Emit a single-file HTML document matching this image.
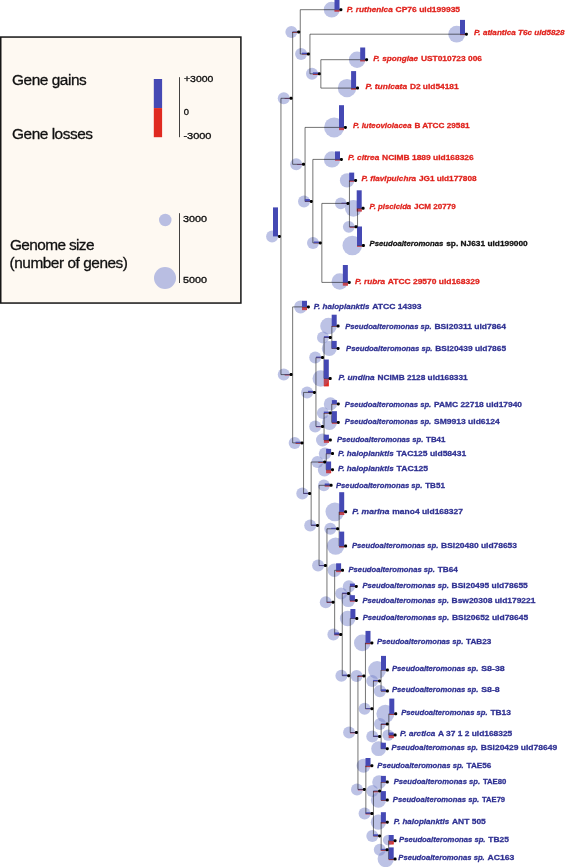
<!DOCTYPE html>
<html><head><meta charset="utf-8"><title>Gene gains and losses</title>
<style>html,body{margin:0;padding:0;background:#fff}svg{display:block;will-change:transform}</style>
</head><body>
<svg width="568" height="867" viewBox="0 0 568 867">
<rect x="0.75" y="37.05" width="240.15" height="266" fill="#fef9f2" stroke="#161616" stroke-width="1.5"/>
<g font-family="'Liberation Sans', sans-serif" fill="#111">
<g font-size="15.4" stroke="#111" stroke-width="0.3">
<text x="12" y="85" textLength="74.8" lengthAdjust="spacing">Gene gains</text>
<text x="12" y="139.2" textLength="81" lengthAdjust="spacing">Gene losses</text>
<text x="10" y="250" textLength="84.5" lengthAdjust="spacing">Genome size</text>
<text x="9.5" y="267.5" textLength="118.5" lengthAdjust="spacing">(number of genes)</text>
</g>
<g font-size="9.8" stroke="#111" stroke-width="0.35">
<text x="184" y="82.1" textLength="29.3" lengthAdjust="spacingAndGlyphs">+3000</text>
<text x="183.7" y="115.4" textLength="5.2" lengthAdjust="spacingAndGlyphs">0</text>
<text x="183.4" y="138.8" textLength="28.1" lengthAdjust="spacingAndGlyphs">-3000</text>
<text x="183" y="222.4" textLength="24" lengthAdjust="spacingAndGlyphs">3000</text>
<text x="183" y="282.9" textLength="24" lengthAdjust="spacingAndGlyphs">5000</text>
</g>
</g>
<rect x="153.8" y="79" width="8.3" height="29.1" fill="#4549b4"/>
<rect x="153.8" y="108.1" width="8.3" height="29.1" fill="#e02a20"/>
<path d="M179.5 77.2V137.2M179.5 213.2V283" stroke="#111" stroke-width="0.8" fill="none"/>
<circle cx="165.25" cy="220" r="6.25" fill="#b9bee2"/>
<circle cx="165" cy="278" r="11" fill="#b9bee2"/>
<g>
<rect x="334.50" y="9.70" width="5.0" height="2.00" fill="#e02a20"/>
<rect x="460.00" y="34.20" width="5.0" height="0.90" fill="#e02a20"/>
<rect x="360.20" y="59.70" width="5.0" height="1.70" fill="#e02a20"/>
<rect x="351.10" y="88.10" width="5.0" height="1.60" fill="#e02a20"/>
<rect x="339.00" y="127.40" width="5.0" height="2.70" fill="#e02a20"/>
<rect x="335.00" y="159.40" width="5.0" height="1.30" fill="#e02a20"/>
<rect x="349.20" y="180.40" width="5.0" height="1.40" fill="#e02a20"/>
<rect x="356.70" y="208.30" width="5.0" height="3.20" fill="#e02a20"/>
<rect x="357.00" y="245.50" width="5.0" height="1.30" fill="#e02a20"/>
<rect x="342.85" y="282.40" width="5.0" height="3.20" fill="#e02a20"/>
<rect x="302.00" y="306.90" width="5.0" height="3.20" fill="#e02a20"/>
<rect x="331.70" y="326.10" width="5.0" height="0.60" fill="#e02a20"/>
<rect x="331.70" y="348.40" width="5.0" height="0.40" fill="#e02a20"/>
<rect x="323.80" y="378.50" width="5.0" height="7.80" fill="#e02a20"/>
<rect x="331.90" y="403.90" width="5.0" height="0.40" fill="#e02a20"/>
<rect x="331.90" y="422.40" width="5.0" height="1.40" fill="#e02a20"/>
<rect x="323.90" y="440.00" width="5.0" height="2.80" fill="#e02a20"/>
<rect x="326.10" y="453.60" width="5.0" height="0.50" fill="#e02a20"/>
<rect x="326.10" y="469.70" width="5.0" height="3.50" fill="#e02a20"/>
<rect x="324.70" y="485.30" width="5.0" height="1.30" fill="#e02a20"/>
<rect x="339.20" y="511.80" width="5.0" height="3.20" fill="#e02a20"/>
<rect x="339.20" y="546.10" width="5.0" height="1.40" fill="#e02a20"/>
<rect x="336.10" y="570.30" width="5.0" height="1.80" fill="#e02a20"/>
<rect x="349.90" y="586.40" width="5.0" height="0.60" fill="#e02a20"/>
<rect x="349.90" y="600.40" width="5.0" height="1.30" fill="#e02a20"/>
<rect x="350.40" y="618.50" width="5.0" height="0.30" fill="#e02a20"/>
<rect x="365.50" y="642.90" width="5.0" height="1.30" fill="#e02a20"/>
<rect x="381.00" y="670.10" width="5.0" height="0.30" fill="#e02a20"/>
<rect x="381.00" y="691.10" width="5.0" height="0.30" fill="#e02a20"/>
<rect x="389.30" y="713.80" width="5.0" height="1.20" fill="#e02a20"/>
<rect x="388.70" y="735.10" width="5.0" height="3.00" fill="#e02a20"/>
<rect x="380.90" y="748.70" width="5.0" height="0.30" fill="#e02a20"/>
<rect x="365.50" y="765.70" width="5.0" height="1.40" fill="#e02a20"/>
<rect x="380.90" y="782.10" width="5.0" height="0.50" fill="#e02a20"/>
<rect x="380.90" y="800.10" width="5.0" height="0.70" fill="#e02a20"/>
<rect x="380.90" y="822.20" width="5.0" height="1.30" fill="#e02a20"/>
<rect x="388.70" y="840.70" width="5.0" height="3.70" fill="#e02a20"/>
<rect x="388.70" y="859.10" width="5.0" height="1.00" fill="#e02a20"/>
<rect x="284.70" y="98.30" width="5.0" height="0.70" fill="#e02a20"/>
<rect x="292.30" y="32.00" width="5.0" height="0.80" fill="#e02a20"/>
<rect x="302.00" y="54.00" width="5.0" height="0.40" fill="#e02a20"/>
<rect x="312.90" y="73.80" width="5.0" height="1.20" fill="#e02a20"/>
<rect x="297.10" y="164.30" width="5.0" height="0.70" fill="#e02a20"/>
<rect x="304.90" y="201.40" width="5.0" height="0.50" fill="#e02a20"/>
<rect x="313.90" y="242.90" width="5.0" height="0.30" fill="#e02a20"/>
<rect x="341.50" y="203.40" width="5.0" height="0.50" fill="#e02a20"/>
<rect x="349.60" y="226.80" width="5.0" height="0.80" fill="#e02a20"/>
<rect x="284.70" y="374.60" width="5.0" height="0.80" fill="#e02a20"/>
<rect x="295.60" y="442.90" width="5.0" height="0.90" fill="#e02a20"/>
<rect x="308.00" y="392.40" width="5.0" height="0.50" fill="#e02a20"/>
<rect x="316.10" y="357.60" width="5.0" height="0.50" fill="#e02a20"/>
<rect x="323.90" y="337.50" width="5.0" height="0.40" fill="#e02a20"/>
<rect x="316.10" y="426.50" width="5.0" height="0.70" fill="#e02a20"/>
<rect x="323.80" y="413.00" width="5.0" height="0.40" fill="#e02a20"/>
<rect x="303.20" y="493.50" width="5.0" height="0.40" fill="#e02a20"/>
<rect x="318.30" y="462.00" width="5.0" height="0.80" fill="#e02a20"/>
<rect x="311.10" y="525.40" width="5.0" height="0.30" fill="#e02a20"/>
<rect x="319.00" y="565.60" width="5.0" height="0.40" fill="#e02a20"/>
<rect x="331.20" y="528.80" width="5.0" height="0.20" fill="#e02a20"/>
<rect x="326.70" y="602.20" width="5.0" height="0.80" fill="#e02a20"/>
<rect x="334.30" y="634.50" width="5.0" height="0.80" fill="#e02a20"/>
<rect x="342.10" y="593.50" width="5.0" height="0.60" fill="#e02a20"/>
<rect x="342.30" y="675.70" width="5.0" height="0.30" fill="#e02a20"/>
<rect x="350.00" y="732.50" width="5.0" height="0.80" fill="#e02a20"/>
<rect x="357.50" y="675.90" width="5.0" height="0.90" fill="#e02a20"/>
<rect x="365.50" y="708.70" width="5.0" height="0.40" fill="#e02a20"/>
<rect x="373.10" y="680.90" width="5.0" height="0.30" fill="#e02a20"/>
<rect x="373.20" y="736.50" width="5.0" height="0.40" fill="#e02a20"/>
<rect x="380.90" y="724.10" width="5.0" height="0.80" fill="#e02a20"/>
<rect x="357.90" y="789.40" width="5.0" height="0.90" fill="#e02a20"/>
<rect x="365.50" y="813.50" width="5.0" height="0.90" fill="#e02a20"/>
<rect x="373.20" y="791.10" width="5.0" height="1.20" fill="#e02a20"/>
<rect x="373.20" y="835.90" width="5.0" height="0.40" fill="#e02a20"/>
<rect x="380.70" y="849.80" width="5.0" height="1.00" fill="#e02a20"/>
</g>
<g fill="#7a86cc" fill-opacity="0.5">
<circle cx="331.70" cy="9.70" r="7.9"/>
<circle cx="456.70" cy="34.20" r="8.4"/>
<circle cx="357.10" cy="59.70" r="8.2"/>
<circle cx="347.00" cy="88.10" r="9.2"/>
<circle cx="334.10" cy="127.40" r="10"/>
<circle cx="332.00" cy="159.40" r="8.1"/>
<circle cx="347.10" cy="180.40" r="7.2"/>
<circle cx="353.40" cy="208.30" r="8.4"/>
<circle cx="352.30" cy="245.50" r="9.8"/>
<circle cx="339.75" cy="281.50" r="8.2"/>
<circle cx="300.60" cy="306.90" r="6.5"/>
<circle cx="328.50" cy="326.10" r="8.3"/>
<circle cx="329.30" cy="348.40" r="7.5"/>
<circle cx="320.70" cy="378.50" r="8.2"/>
<circle cx="330.40" cy="403.90" r="6.6"/>
<circle cx="329.50" cy="422.40" r="7.5"/>
<circle cx="322.50" cy="440.00" r="6.5"/>
<circle cx="325.00" cy="453.60" r="6.2"/>
<circle cx="324.50" cy="469.70" r="6.7"/>
<circle cx="323.90" cy="485.30" r="5.9"/>
<circle cx="334.90" cy="511.80" r="9.4"/>
<circle cx="335.60" cy="546.10" r="8.7"/>
<circle cx="334.40" cy="570.30" r="6.8"/>
<circle cx="348.90" cy="586.40" r="6.1"/>
<circle cx="348.30" cy="600.40" r="6.7"/>
<circle cx="347.70" cy="618.50" r="7.8"/>
<circle cx="362.30" cy="642.90" r="8.3"/>
<circle cx="377.10" cy="670.10" r="9.0"/>
<circle cx="379.90" cy="691.10" r="6.2"/>
<circle cx="385.40" cy="713.80" r="9.0"/>
<circle cx="388.10" cy="735.10" r="5.7"/>
<circle cx="378.60" cy="748.70" r="7.4"/>
<circle cx="363.60" cy="765.70" r="7.0"/>
<circle cx="379.10" cy="782.10" r="6.9"/>
<circle cx="378.40" cy="800.10" r="7.6"/>
<circle cx="378.40" cy="822.20" r="7.6"/>
<circle cx="388.20" cy="840.10" r="5.3"/>
<circle cx="385.70" cy="859.10" r="8.1"/>
<circle cx="272.10" cy="236.40" r="6.0"/>
<circle cx="283.80" cy="98.30" r="6.0"/>
<circle cx="291.40" cy="32.00" r="6.0"/>
<circle cx="301.10" cy="54.00" r="6.0"/>
<circle cx="312.00" cy="73.80" r="6.0"/>
<circle cx="296.20" cy="164.30" r="6.0"/>
<circle cx="304.00" cy="201.40" r="6.0"/>
<circle cx="313.00" cy="242.90" r="6.0"/>
<circle cx="340.80" cy="203.40" r="5.8"/>
<circle cx="348.80" cy="226.80" r="5.9"/>
<circle cx="283.80" cy="374.60" r="6.0"/>
<circle cx="294.70" cy="442.90" r="6.0"/>
<circle cx="307.10" cy="392.40" r="6.0"/>
<circle cx="315.20" cy="357.60" r="6.0"/>
<circle cx="323.00" cy="337.50" r="6.0"/>
<circle cx="315.20" cy="426.50" r="6.0"/>
<circle cx="322.90" cy="413.00" r="6.0"/>
<circle cx="302.30" cy="493.50" r="6.0"/>
<circle cx="317.40" cy="462.00" r="6.0"/>
<circle cx="310.20" cy="525.40" r="6.0"/>
<circle cx="318.10" cy="565.60" r="6.0"/>
<circle cx="330.30" cy="528.80" r="6.0"/>
<circle cx="325.80" cy="602.20" r="6.0"/>
<circle cx="333.40" cy="634.50" r="6.0"/>
<circle cx="341.20" cy="593.50" r="6.0"/>
<circle cx="341.40" cy="675.70" r="6.0"/>
<circle cx="349.10" cy="732.50" r="6.0"/>
<circle cx="356.60" cy="675.90" r="6.0"/>
<circle cx="364.60" cy="708.70" r="6.0"/>
<circle cx="372.20" cy="680.90" r="6.0"/>
<circle cx="372.30" cy="736.50" r="6.0"/>
<circle cx="380.00" cy="724.10" r="6.0"/>
<circle cx="357.00" cy="789.40" r="6.0"/>
<circle cx="364.60" cy="813.50" r="6.0"/>
<circle cx="372.30" cy="791.10" r="6.0"/>
<circle cx="372.30" cy="835.90" r="6.0"/>
<circle cx="379.80" cy="849.80" r="6.0"/>
</g>
<g opacity="0.42">
<rect x="334.50" y="9.70" width="5.0" height="2.00" fill="#e02a20"/>
<rect x="460.00" y="34.20" width="5.0" height="0.90" fill="#e02a20"/>
<rect x="360.20" y="59.70" width="5.0" height="1.70" fill="#e02a20"/>
<rect x="351.10" y="88.10" width="5.0" height="1.60" fill="#e02a20"/>
<rect x="339.00" y="127.40" width="5.0" height="2.70" fill="#e02a20"/>
<rect x="335.00" y="159.40" width="5.0" height="1.30" fill="#e02a20"/>
<rect x="349.20" y="180.40" width="5.0" height="1.40" fill="#e02a20"/>
<rect x="356.70" y="208.30" width="5.0" height="3.20" fill="#e02a20"/>
<rect x="357.00" y="245.50" width="5.0" height="1.30" fill="#e02a20"/>
<rect x="342.85" y="282.40" width="5.0" height="3.20" fill="#e02a20"/>
<rect x="302.00" y="306.90" width="5.0" height="3.20" fill="#e02a20"/>
<rect x="331.70" y="326.10" width="5.0" height="0.60" fill="#e02a20"/>
<rect x="331.70" y="348.40" width="5.0" height="0.40" fill="#e02a20"/>
<rect x="323.80" y="378.50" width="5.0" height="7.80" fill="#e02a20"/>
<rect x="331.90" y="403.90" width="5.0" height="0.40" fill="#e02a20"/>
<rect x="331.90" y="422.40" width="5.0" height="1.40" fill="#e02a20"/>
<rect x="323.90" y="440.00" width="5.0" height="2.80" fill="#e02a20"/>
<rect x="326.10" y="453.60" width="5.0" height="0.50" fill="#e02a20"/>
<rect x="326.10" y="469.70" width="5.0" height="3.50" fill="#e02a20"/>
<rect x="324.70" y="485.30" width="5.0" height="1.30" fill="#e02a20"/>
<rect x="339.20" y="511.80" width="5.0" height="3.20" fill="#e02a20"/>
<rect x="339.20" y="546.10" width="5.0" height="1.40" fill="#e02a20"/>
<rect x="336.10" y="570.30" width="5.0" height="1.80" fill="#e02a20"/>
<rect x="349.90" y="586.40" width="5.0" height="0.60" fill="#e02a20"/>
<rect x="349.90" y="600.40" width="5.0" height="1.30" fill="#e02a20"/>
<rect x="350.40" y="618.50" width="5.0" height="0.30" fill="#e02a20"/>
<rect x="365.50" y="642.90" width="5.0" height="1.30" fill="#e02a20"/>
<rect x="381.00" y="670.10" width="5.0" height="0.30" fill="#e02a20"/>
<rect x="381.00" y="691.10" width="5.0" height="0.30" fill="#e02a20"/>
<rect x="389.30" y="713.80" width="5.0" height="1.20" fill="#e02a20"/>
<rect x="388.70" y="735.10" width="5.0" height="3.00" fill="#e02a20"/>
<rect x="380.90" y="748.70" width="5.0" height="0.30" fill="#e02a20"/>
<rect x="365.50" y="765.70" width="5.0" height="1.40" fill="#e02a20"/>
<rect x="380.90" y="782.10" width="5.0" height="0.50" fill="#e02a20"/>
<rect x="380.90" y="800.10" width="5.0" height="0.70" fill="#e02a20"/>
<rect x="380.90" y="822.20" width="5.0" height="1.30" fill="#e02a20"/>
<rect x="388.70" y="840.70" width="5.0" height="3.70" fill="#e02a20"/>
<rect x="388.70" y="859.10" width="5.0" height="1.00" fill="#e02a20"/>
<rect x="284.70" y="98.30" width="5.0" height="0.70" fill="#e02a20"/>
<rect x="292.30" y="32.00" width="5.0" height="0.80" fill="#e02a20"/>
<rect x="302.00" y="54.00" width="5.0" height="0.40" fill="#e02a20"/>
<rect x="312.90" y="73.80" width="5.0" height="1.20" fill="#e02a20"/>
<rect x="297.10" y="164.30" width="5.0" height="0.70" fill="#e02a20"/>
<rect x="304.90" y="201.40" width="5.0" height="0.50" fill="#e02a20"/>
<rect x="313.90" y="242.90" width="5.0" height="0.30" fill="#e02a20"/>
<rect x="341.50" y="203.40" width="5.0" height="0.50" fill="#e02a20"/>
<rect x="349.60" y="226.80" width="5.0" height="0.80" fill="#e02a20"/>
<rect x="284.70" y="374.60" width="5.0" height="0.80" fill="#e02a20"/>
<rect x="295.60" y="442.90" width="5.0" height="0.90" fill="#e02a20"/>
<rect x="308.00" y="392.40" width="5.0" height="0.50" fill="#e02a20"/>
<rect x="316.10" y="357.60" width="5.0" height="0.50" fill="#e02a20"/>
<rect x="323.90" y="337.50" width="5.0" height="0.40" fill="#e02a20"/>
<rect x="316.10" y="426.50" width="5.0" height="0.70" fill="#e02a20"/>
<rect x="323.80" y="413.00" width="5.0" height="0.40" fill="#e02a20"/>
<rect x="303.20" y="493.50" width="5.0" height="0.40" fill="#e02a20"/>
<rect x="318.30" y="462.00" width="5.0" height="0.80" fill="#e02a20"/>
<rect x="311.10" y="525.40" width="5.0" height="0.30" fill="#e02a20"/>
<rect x="319.00" y="565.60" width="5.0" height="0.40" fill="#e02a20"/>
<rect x="331.20" y="528.80" width="5.0" height="0.20" fill="#e02a20"/>
<rect x="326.70" y="602.20" width="5.0" height="0.80" fill="#e02a20"/>
<rect x="334.30" y="634.50" width="5.0" height="0.80" fill="#e02a20"/>
<rect x="342.10" y="593.50" width="5.0" height="0.60" fill="#e02a20"/>
<rect x="342.30" y="675.70" width="5.0" height="0.30" fill="#e02a20"/>
<rect x="350.00" y="732.50" width="5.0" height="0.80" fill="#e02a20"/>
<rect x="357.50" y="675.90" width="5.0" height="0.90" fill="#e02a20"/>
<rect x="365.50" y="708.70" width="5.0" height="0.40" fill="#e02a20"/>
<rect x="373.10" y="680.90" width="5.0" height="0.30" fill="#e02a20"/>
<rect x="373.20" y="736.50" width="5.0" height="0.40" fill="#e02a20"/>
<rect x="380.90" y="724.10" width="5.0" height="0.80" fill="#e02a20"/>
<rect x="357.90" y="789.40" width="5.0" height="0.90" fill="#e02a20"/>
<rect x="365.50" y="813.50" width="5.0" height="0.90" fill="#e02a20"/>
<rect x="373.20" y="791.10" width="5.0" height="1.20" fill="#e02a20"/>
<rect x="373.20" y="835.90" width="5.0" height="0.40" fill="#e02a20"/>
<rect x="380.70" y="849.80" width="5.0" height="1.00" fill="#e02a20"/>
</g>
<g fill="none" stroke="#000" stroke-width="0.55">
<path d="M291.10 98.30H280.95V374.60H291.10"/>
<path d="M298.70 32.00H292.65V164.30H303.50"/>
<path d="M340.90 9.70H300.25V54.00H308.40"/>
<path d="M466.40 34.20H309.95V73.80H319.30"/>
<path d="M366.60 59.70H320.85V88.10H357.50"/>
<path d="M345.40 127.40H305.05V201.40H311.30"/>
<path d="M341.40 159.40H312.85V242.90H320.30"/>
<path d="M347.90 203.40H321.85V282.40H349.25"/>
<path d="M355.60 180.40H349.45V226.80H356.00"/>
<path d="M363.10 208.30H357.55V245.50H363.40"/>
<path d="M308.40 306.90H292.65V442.90H302.00"/>
<path d="M314.40 392.40H303.55V493.50H309.60"/>
<path d="M322.50 357.60H315.95V426.50H322.50"/>
<path d="M330.30 337.50H324.05V378.50H330.20"/>
<path d="M338.10 326.10H331.85V348.40H338.10"/>
<path d="M330.20 413.00H324.05V440.00H330.30"/>
<path d="M338.30 403.90H331.75V422.40H338.30"/>
<path d="M324.70 462.00H311.15V525.40H317.50"/>
<path d="M332.50 453.60H326.25V469.70H332.50"/>
<path d="M331.10 485.30H319.05V565.60H325.40"/>
<path d="M337.60 528.80H326.95V602.20H333.10"/>
<path d="M345.60 511.80H339.15V546.10H345.60"/>
<path d="M342.50 570.30H334.65V634.50H340.70"/>
<path d="M348.50 593.50H342.25V675.70H348.70"/>
<path d="M356.30 586.40H350.05V600.40H356.30"/>
<path d="M356.80 618.50H350.25V732.50H356.40"/>
<path d="M363.90 675.90H357.95V789.40H364.30"/>
<path d="M371.90 642.90H365.45V708.70H371.90"/>
<path d="M379.50 680.90H373.45V736.50H379.60"/>
<path d="M387.40 670.10H381.05V691.10H387.40"/>
<path d="M387.30 724.10H381.15V748.70H387.30"/>
<path d="M395.70 713.80H388.85V735.10H395.10"/>
<path d="M371.90 765.70H365.85V813.50H371.90"/>
<path d="M379.60 791.10H373.45V835.90H379.60"/>
<path d="M387.30 782.10H381.15V800.10H387.30"/>
<path d="M387.30 822.20H381.15V849.80H387.10"/>
<path d="M395.10 840.70H388.65V859.10H395.10"/>
</g>
<g>
<rect x="334.50" y="-0.80" width="5.0" height="10.50" fill="#4549b4"/>
<rect x="460.00" y="19.90" width="5.0" height="14.30" fill="#4549b4"/>
<rect x="360.20" y="47.50" width="5.0" height="12.20" fill="#4549b4"/>
<rect x="351.10" y="71.10" width="5.0" height="17.00" fill="#4549b4"/>
<rect x="339.00" y="105.20" width="5.0" height="22.20" fill="#4549b4"/>
<rect x="335.00" y="151.40" width="5.0" height="8.00" fill="#4549b4"/>
<rect x="349.20" y="172.60" width="5.0" height="7.80" fill="#4549b4"/>
<rect x="356.70" y="190.30" width="5.0" height="18.00" fill="#4549b4"/>
<rect x="357.00" y="226.50" width="5.0" height="19.00" fill="#4549b4"/>
<rect x="342.85" y="265.00" width="5.0" height="17.40" fill="#4549b4"/>
<rect x="302.00" y="300.80" width="5.0" height="6.10" fill="#4549b4"/>
<rect x="331.70" y="314.70" width="5.0" height="11.40" fill="#4549b4"/>
<rect x="331.70" y="340.90" width="5.0" height="7.50" fill="#4549b4"/>
<rect x="323.80" y="359.50" width="5.0" height="19.00" fill="#4549b4"/>
<rect x="331.90" y="400.10" width="5.0" height="3.80" fill="#4549b4"/>
<rect x="331.90" y="411.20" width="5.0" height="11.20" fill="#4549b4"/>
<rect x="323.90" y="434.70" width="5.0" height="5.30" fill="#4549b4"/>
<rect x="326.10" y="448.90" width="5.0" height="4.70" fill="#4549b4"/>
<rect x="326.10" y="461.50" width="5.0" height="8.20" fill="#4549b4"/>
<rect x="324.70" y="483.50" width="5.0" height="1.80" fill="#4549b4"/>
<rect x="339.20" y="492.20" width="5.0" height="19.60" fill="#4549b4"/>
<rect x="339.20" y="531.60" width="5.0" height="14.50" fill="#4549b4"/>
<rect x="336.10" y="563.30" width="5.0" height="7.00" fill="#4549b4"/>
<rect x="349.90" y="583.60" width="5.0" height="2.80" fill="#4549b4"/>
<rect x="349.90" y="595.20" width="5.0" height="5.20" fill="#4549b4"/>
<rect x="350.40" y="609.00" width="5.0" height="9.50" fill="#4549b4"/>
<rect x="365.50" y="630.90" width="5.0" height="12.00" fill="#4549b4"/>
<rect x="381.00" y="655.90" width="5.0" height="14.20" fill="#4549b4"/>
<rect x="381.00" y="689.30" width="5.0" height="1.80" fill="#4549b4"/>
<rect x="389.30" y="698.60" width="5.0" height="15.20" fill="#4549b4"/>
<rect x="388.70" y="732.50" width="5.0" height="2.60" fill="#4549b4"/>
<rect x="380.90" y="742.70" width="5.0" height="6.00" fill="#4549b4"/>
<rect x="365.50" y="758.00" width="5.0" height="7.70" fill="#4549b4"/>
<rect x="380.90" y="775.90" width="5.0" height="6.20" fill="#4549b4"/>
<rect x="380.90" y="791.10" width="5.0" height="9.00" fill="#4549b4"/>
<rect x="380.90" y="812.20" width="5.0" height="10.00" fill="#4549b4"/>
<rect x="388.70" y="835.00" width="5.0" height="5.70" fill="#4549b4"/>
<rect x="388.70" y="847.40" width="5.0" height="11.70" fill="#4549b4"/>
<rect x="273.00" y="207.40" width="5.0" height="29.00" fill="#4549b4"/>
<rect x="284.70" y="98.00" width="5.0" height="0.30" fill="#4549b4"/>
<rect x="292.30" y="31.70" width="5.0" height="0.30" fill="#4549b4"/>
<rect x="302.00" y="52.70" width="5.0" height="1.30" fill="#4549b4"/>
<rect x="312.90" y="72.40" width="5.0" height="1.40" fill="#4549b4"/>
<rect x="297.10" y="164.00" width="5.0" height="0.30" fill="#4549b4"/>
<rect x="304.90" y="199.10" width="5.0" height="2.30" fill="#4549b4"/>
<rect x="313.90" y="241.50" width="5.0" height="1.40" fill="#4549b4"/>
<rect x="341.50" y="202.70" width="5.0" height="0.70" fill="#4549b4"/>
<rect x="349.60" y="226.50" width="5.0" height="0.30" fill="#4549b4"/>
<rect x="284.70" y="374.30" width="5.0" height="0.30" fill="#4549b4"/>
<rect x="295.60" y="441.70" width="5.0" height="1.20" fill="#4549b4"/>
<rect x="308.00" y="390.80" width="5.0" height="1.60" fill="#4549b4"/>
<rect x="316.10" y="356.60" width="5.0" height="1.00" fill="#4549b4"/>
<rect x="323.90" y="336.20" width="5.0" height="1.30" fill="#4549b4"/>
<rect x="316.10" y="426.00" width="5.0" height="0.50" fill="#4549b4"/>
<rect x="323.80" y="411.60" width="5.0" height="1.40" fill="#4549b4"/>
<rect x="303.20" y="492.80" width="5.0" height="0.70" fill="#4549b4"/>
<rect x="318.30" y="461.60" width="5.0" height="0.40" fill="#4549b4"/>
<rect x="311.10" y="524.60" width="5.0" height="0.80" fill="#4549b4"/>
<rect x="319.00" y="565.00" width="5.0" height="0.60" fill="#4549b4"/>
<rect x="331.20" y="527.80" width="5.0" height="1.00" fill="#4549b4"/>
<rect x="326.70" y="601.70" width="5.0" height="0.50" fill="#4549b4"/>
<rect x="334.30" y="632.50" width="5.0" height="2.00" fill="#4549b4"/>
<rect x="342.10" y="592.60" width="5.0" height="0.90" fill="#4549b4"/>
<rect x="342.30" y="674.60" width="5.0" height="1.10" fill="#4549b4"/>
<rect x="350.00" y="732.20" width="5.0" height="0.30" fill="#4549b4"/>
<rect x="357.50" y="675.50" width="5.0" height="0.40" fill="#4549b4"/>
<rect x="365.50" y="708.00" width="5.0" height="0.70" fill="#4549b4"/>
<rect x="373.10" y="679.90" width="5.0" height="1.00" fill="#4549b4"/>
<rect x="373.20" y="735.60" width="5.0" height="0.90" fill="#4549b4"/>
<rect x="380.90" y="723.60" width="5.0" height="0.50" fill="#4549b4"/>
<rect x="357.90" y="789.10" width="5.0" height="0.30" fill="#4549b4"/>
<rect x="365.50" y="812.30" width="5.0" height="1.20" fill="#4549b4"/>
<rect x="373.20" y="790.80" width="5.0" height="0.30" fill="#4549b4"/>
<rect x="373.20" y="834.30" width="5.0" height="1.60" fill="#4549b4"/>
<rect x="380.70" y="848.80" width="5.0" height="1.00" fill="#4549b4"/>
</g>
<g fill="#000">
<rect x="339.40" y="8.20" width="3" height="3" rx="1.1"/>
<rect x="464.90" y="32.70" width="3" height="3" rx="1.1"/>
<rect x="365.10" y="58.20" width="3" height="3" rx="1.1"/>
<rect x="356.00" y="86.60" width="3" height="3" rx="1.1"/>
<rect x="343.90" y="125.90" width="3" height="3" rx="1.1"/>
<rect x="339.90" y="157.90" width="3" height="3" rx="1.1"/>
<rect x="354.10" y="178.90" width="3" height="3" rx="1.1"/>
<rect x="361.60" y="206.80" width="3" height="3" rx="1.1"/>
<rect x="361.90" y="244.00" width="3" height="3" rx="1.1"/>
<rect x="347.75" y="280.90" width="3" height="3" rx="1.1"/>
<rect x="306.90" y="305.40" width="3" height="3" rx="1.1"/>
<rect x="336.60" y="324.60" width="3" height="3" rx="1.1"/>
<rect x="336.60" y="346.90" width="3" height="3" rx="1.1"/>
<rect x="328.70" y="377.00" width="3" height="3" rx="1.1"/>
<rect x="336.80" y="402.40" width="3" height="3" rx="1.1"/>
<rect x="336.80" y="420.90" width="3" height="3" rx="1.1"/>
<rect x="328.80" y="438.50" width="3" height="3" rx="1.1"/>
<rect x="331.00" y="452.10" width="3" height="3" rx="1.1"/>
<rect x="331.00" y="468.20" width="3" height="3" rx="1.1"/>
<rect x="329.60" y="483.80" width="3" height="3" rx="1.1"/>
<rect x="344.10" y="510.30" width="3" height="3" rx="1.1"/>
<rect x="344.10" y="544.60" width="3" height="3" rx="1.1"/>
<rect x="341.00" y="568.80" width="3" height="3" rx="1.1"/>
<rect x="354.80" y="584.90" width="3" height="3" rx="1.1"/>
<rect x="354.80" y="598.90" width="3" height="3" rx="1.1"/>
<rect x="355.30" y="617.00" width="3" height="3" rx="1.1"/>
<rect x="370.40" y="641.40" width="3" height="3" rx="1.1"/>
<rect x="385.90" y="668.60" width="3" height="3" rx="1.1"/>
<rect x="385.90" y="689.60" width="3" height="3" rx="1.1"/>
<rect x="394.20" y="712.30" width="3" height="3" rx="1.1"/>
<rect x="393.60" y="733.60" width="3" height="3" rx="1.1"/>
<rect x="385.80" y="747.20" width="3" height="3" rx="1.1"/>
<rect x="370.40" y="764.20" width="3" height="3" rx="1.1"/>
<rect x="385.80" y="780.60" width="3" height="3" rx="1.1"/>
<rect x="385.80" y="798.60" width="3" height="3" rx="1.1"/>
<rect x="385.80" y="820.70" width="3" height="3" rx="1.1"/>
<rect x="393.60" y="839.20" width="3" height="3" rx="1.1"/>
<rect x="393.60" y="857.60" width="3" height="3" rx="1.1"/>
<rect x="277.90" y="234.90" width="3" height="3" rx="1.1"/>
<rect x="289.60" y="96.80" width="3" height="3" rx="1.1"/>
<rect x="297.20" y="30.50" width="3" height="3" rx="1.1"/>
<rect x="306.90" y="52.50" width="3" height="3" rx="1.1"/>
<rect x="317.80" y="72.30" width="3" height="3" rx="1.1"/>
<rect x="302.00" y="162.80" width="3" height="3" rx="1.1"/>
<rect x="309.80" y="199.90" width="3" height="3" rx="1.1"/>
<rect x="318.80" y="241.40" width="3" height="3" rx="1.1"/>
<rect x="346.40" y="201.90" width="3" height="3" rx="1.1"/>
<rect x="354.50" y="225.30" width="3" height="3" rx="1.1"/>
<rect x="289.60" y="373.10" width="3" height="3" rx="1.1"/>
<rect x="300.50" y="441.40" width="3" height="3" rx="1.1"/>
<rect x="312.90" y="390.90" width="3" height="3" rx="1.1"/>
<rect x="321.00" y="356.10" width="3" height="3" rx="1.1"/>
<rect x="328.80" y="336.00" width="3" height="3" rx="1.1"/>
<rect x="321.00" y="425.00" width="3" height="3" rx="1.1"/>
<rect x="328.70" y="411.50" width="3" height="3" rx="1.1"/>
<rect x="308.10" y="492.00" width="3" height="3" rx="1.1"/>
<rect x="323.20" y="460.50" width="3" height="3" rx="1.1"/>
<rect x="316.00" y="523.90" width="3" height="3" rx="1.1"/>
<rect x="323.90" y="564.10" width="3" height="3" rx="1.1"/>
<rect x="336.10" y="527.30" width="3" height="3" rx="1.1"/>
<rect x="331.60" y="600.70" width="3" height="3" rx="1.1"/>
<rect x="339.20" y="633.00" width="3" height="3" rx="1.1"/>
<rect x="347.00" y="592.00" width="3" height="3" rx="1.1"/>
<rect x="347.20" y="674.20" width="3" height="3" rx="1.1"/>
<rect x="354.90" y="731.00" width="3" height="3" rx="1.1"/>
<rect x="362.40" y="674.40" width="3" height="3" rx="1.1"/>
<rect x="370.40" y="707.20" width="3" height="3" rx="1.1"/>
<rect x="378.00" y="679.40" width="3" height="3" rx="1.1"/>
<rect x="378.10" y="735.00" width="3" height="3" rx="1.1"/>
<rect x="385.80" y="722.60" width="3" height="3" rx="1.1"/>
<rect x="362.80" y="787.90" width="3" height="3" rx="1.1"/>
<rect x="370.40" y="812.00" width="3" height="3" rx="1.1"/>
<rect x="378.10" y="789.60" width="3" height="3" rx="1.1"/>
<rect x="378.10" y="834.40" width="3" height="3" rx="1.1"/>
<rect x="385.60" y="848.30" width="3" height="3" rx="1.1"/>
</g>
<g font-family="'Liberation Sans', sans-serif" font-size="8" font-weight="bold" font-style="italic" stroke-width="0.28">
<text x="346.7" y="11.8" fill="#e0231d" stroke="#e0231d" textLength="46.1" lengthAdjust="spacingAndGlyphs">P. ruthenica</text>
<text x="395.6" y="11.8" fill="#e0231d" stroke="#e0231d" font-style="normal" textLength="64.5" lengthAdjust="spacingAndGlyphs">CP76 uid199935</text>
<text x="474.0" y="35.2" fill="#e0231d" stroke="#e0231d" textLength="90.6" lengthAdjust="spacingAndGlyphs">P. atlantica T6c uid5828</text>
<text x="373.2" y="60.5" fill="#e0231d" stroke="#e0231d" textLength="44.9" lengthAdjust="spacingAndGlyphs">P. spongiae</text>
<text x="420.9" y="60.5" fill="#e0231d" stroke="#e0231d" font-style="normal" textLength="61.1" lengthAdjust="spacingAndGlyphs">UST010723 006</text>
<text x="365.6" y="88.5" fill="#e0231d" stroke="#e0231d" textLength="41.5" lengthAdjust="spacingAndGlyphs">P. tunicata</text>
<text x="409.9" y="88.5" fill="#e0231d" stroke="#e0231d" font-style="normal" textLength="48.7" lengthAdjust="spacingAndGlyphs">D2 uid54181</text>
<text x="353.0" y="127.9" fill="#e0231d" stroke="#e0231d" textLength="58.6" lengthAdjust="spacingAndGlyphs">P. luteoviolacea</text>
<text x="414.4" y="127.9" fill="#e0231d" stroke="#e0231d" font-style="normal" textLength="55.1" lengthAdjust="spacingAndGlyphs">B ATCC 29581</text>
<text x="348.0" y="159.9" fill="#e0231d" stroke="#e0231d" textLength="31.3" lengthAdjust="spacingAndGlyphs">P. citrea</text>
<text x="382.1" y="159.9" fill="#e0231d" stroke="#e0231d" font-style="normal" textLength="91.6" lengthAdjust="spacingAndGlyphs">NCIMB 1889 uid168326</text>
<text x="361.4" y="180.8" fill="#e0231d" stroke="#e0231d" textLength="54.7" lengthAdjust="spacingAndGlyphs">P. flavipulchra</text>
<text x="418.9" y="180.8" fill="#e0231d" stroke="#e0231d" font-style="normal" textLength="57.7" lengthAdjust="spacingAndGlyphs">JG1 uid177808</text>
<text x="369.5" y="209.3" fill="#e0231d" stroke="#e0231d" textLength="41.7" lengthAdjust="spacingAndGlyphs">P. piscicida</text>
<text x="414.0" y="209.3" fill="#e0231d" stroke="#e0231d" font-style="normal" textLength="41.7" lengthAdjust="spacingAndGlyphs">JCM 20779</text>
<text x="369.5" y="245.6" fill="#111111" stroke="#111111" textLength="73.9" lengthAdjust="spacingAndGlyphs">Pseudoalteromonas</text>
<text x="446.2" y="245.6" fill="#111111" stroke="#111111" font-style="normal" textLength="81.5" lengthAdjust="spacingAndGlyphs">sp. NJ631 uid199000</text>
<text x="355.1" y="283.6" fill="#e0231d" stroke="#e0231d" textLength="29.9" lengthAdjust="spacingAndGlyphs">P. rubra</text>
<text x="387.8" y="283.6" fill="#e0231d" stroke="#e0231d" font-style="normal" textLength="91.8" lengthAdjust="spacingAndGlyphs">ATCC 29570 uid168329</text>
<text x="313.8" y="308.8" fill="#2f3192" stroke="#2f3192" textLength="55.6" lengthAdjust="spacingAndGlyphs">P. haloplanktis</text>
<text x="372.2" y="308.8" fill="#2f3192" stroke="#2f3192" font-style="normal" textLength="49.3" lengthAdjust="spacingAndGlyphs">ATCC 14393</text>
<text x="345.2" y="328.5" fill="#2f3192" stroke="#2f3192" textLength="86.4" lengthAdjust="spacingAndGlyphs">Pseudoalteromonas sp.</text>
<text x="434.4" y="328.5" fill="#2f3192" stroke="#2f3192" font-style="normal" textLength="71.7" lengthAdjust="spacingAndGlyphs">BSi20311 uid7864</text>
<text x="346.1" y="350.6" fill="#2f3192" stroke="#2f3192" textLength="86.4" lengthAdjust="spacingAndGlyphs">Pseudoalteromonas sp.</text>
<text x="435.3" y="350.6" fill="#2f3192" stroke="#2f3192" font-style="normal" textLength="70.8" lengthAdjust="spacingAndGlyphs">BSi20439 uid7865</text>
<text x="338.5" y="379.7" fill="#2f3192" stroke="#2f3192" textLength="36.2" lengthAdjust="spacingAndGlyphs">P. undina</text>
<text x="377.5" y="379.7" fill="#2f3192" stroke="#2f3192" font-style="normal" textLength="90.1" lengthAdjust="spacingAndGlyphs">NCIMB 2128 uid168331</text>
<text x="344.8" y="407.3" fill="#2f3192" stroke="#2f3192" textLength="86.4" lengthAdjust="spacingAndGlyphs">Pseudoalteromonas sp.</text>
<text x="434.0" y="407.3" fill="#2f3192" stroke="#2f3192" font-style="normal" textLength="88.0" lengthAdjust="spacingAndGlyphs">PAMC 22718 uid17940</text>
<text x="344.8" y="424.4" fill="#2f3192" stroke="#2f3192" textLength="86.4" lengthAdjust="spacingAndGlyphs">Pseudoalteromonas sp.</text>
<text x="434.0" y="424.4" fill="#2f3192" stroke="#2f3192" font-style="normal" textLength="65.8" lengthAdjust="spacingAndGlyphs">SM9913 uid6124</text>
<text x="336.9" y="442.4" fill="#2f3192" stroke="#2f3192" textLength="86.4" lengthAdjust="spacingAndGlyphs">Pseudoalteromonas sp.</text>
<text x="426.1" y="442.4" fill="#2f3192" stroke="#2f3192" font-style="normal" textLength="19.3" lengthAdjust="spacingAndGlyphs">TB41</text>
<text x="338.1" y="455.7" fill="#2f3192" stroke="#2f3192" textLength="55.6" lengthAdjust="spacingAndGlyphs">P. haloplanktis</text>
<text x="396.5" y="455.7" fill="#2f3192" stroke="#2f3192" font-style="normal" textLength="69.8" lengthAdjust="spacingAndGlyphs">TAC125 uid58431</text>
<text x="338.1" y="470.6" fill="#2f3192" stroke="#2f3192" textLength="55.6" lengthAdjust="spacingAndGlyphs">P. haloplanktis</text>
<text x="396.5" y="470.6" fill="#2f3192" stroke="#2f3192" font-style="normal" textLength="31.6" lengthAdjust="spacingAndGlyphs">TAC125</text>
<text x="336.0" y="488.3" fill="#2f3192" stroke="#2f3192" textLength="86.4" lengthAdjust="spacingAndGlyphs">Pseudoalteromonas sp.</text>
<text x="425.2" y="488.3" fill="#2f3192" stroke="#2f3192" font-style="normal" textLength="19.7" lengthAdjust="spacingAndGlyphs">TB51</text>
<text x="352.3" y="513.5" fill="#2f3192" stroke="#2f3192" textLength="37.2" lengthAdjust="spacingAndGlyphs">P. marina</text>
<text x="392.3" y="513.5" fill="#2f3192" stroke="#2f3192" font-style="normal" textLength="70.6" lengthAdjust="spacingAndGlyphs">mano4 uid168327</text>
<text x="351.9" y="547.7" fill="#2f3192" stroke="#2f3192" textLength="86.4" lengthAdjust="spacingAndGlyphs">Pseudoalteromonas sp.</text>
<text x="441.1" y="547.7" fill="#2f3192" stroke="#2f3192" font-style="normal" textLength="75.9" lengthAdjust="spacingAndGlyphs">BSi20480 uid78653</text>
<text x="348.5" y="572.2" fill="#2f3192" stroke="#2f3192" textLength="86.4" lengthAdjust="spacingAndGlyphs">Pseudoalteromonas sp.</text>
<text x="437.7" y="572.2" fill="#2f3192" stroke="#2f3192" font-style="normal" textLength="20.2" lengthAdjust="spacingAndGlyphs">TB64</text>
<text x="362.4" y="588.1" fill="#2f3192" stroke="#2f3192" textLength="86.4" lengthAdjust="spacingAndGlyphs">Pseudoalteromonas sp.</text>
<text x="451.6" y="588.1" fill="#2f3192" stroke="#2f3192" font-style="normal" textLength="76.2" lengthAdjust="spacingAndGlyphs">BSi20495 uid78655</text>
<text x="362.4" y="603.2" fill="#2f3192" stroke="#2f3192" textLength="86.4" lengthAdjust="spacingAndGlyphs">Pseudoalteromonas sp.</text>
<text x="451.6" y="603.2" fill="#2f3192" stroke="#2f3192" font-style="normal" textLength="83.8" lengthAdjust="spacingAndGlyphs">Bsw20308 uid179221</text>
<text x="362.7" y="619.8" fill="#2f3192" stroke="#2f3192" textLength="86.4" lengthAdjust="spacingAndGlyphs">Pseudoalteromonas sp.</text>
<text x="451.9" y="619.8" fill="#2f3192" stroke="#2f3192" font-style="normal" textLength="76.3" lengthAdjust="spacingAndGlyphs">BSi20652 uid78645</text>
<text x="376.9" y="644.4" fill="#2f3192" stroke="#2f3192" textLength="86.4" lengthAdjust="spacingAndGlyphs">Pseudoalteromonas sp.</text>
<text x="466.1" y="644.4" fill="#2f3192" stroke="#2f3192" font-style="normal" textLength="25.2" lengthAdjust="spacingAndGlyphs">TAB23</text>
<text x="392.0" y="671.2" fill="#2f3192" stroke="#2f3192" textLength="86.4" lengthAdjust="spacingAndGlyphs">Pseudoalteromonas sp.</text>
<text x="481.2" y="671.2" fill="#2f3192" stroke="#2f3192" font-style="normal" textLength="23.5" lengthAdjust="spacingAndGlyphs">S8-38</text>
<text x="392.0" y="691.7" fill="#2f3192" stroke="#2f3192" textLength="86.4" lengthAdjust="spacingAndGlyphs">Pseudoalteromonas sp.</text>
<text x="481.2" y="691.7" fill="#2f3192" stroke="#2f3192" font-style="normal" textLength="18.5" lengthAdjust="spacingAndGlyphs">S8-8</text>
<text x="401.2" y="715.1" fill="#2f3192" stroke="#2f3192" textLength="86.4" lengthAdjust="spacingAndGlyphs">Pseudoalteromonas sp.</text>
<text x="490.4" y="715.1" fill="#2f3192" stroke="#2f3192" font-style="normal" textLength="20.6" lengthAdjust="spacingAndGlyphs">TB13</text>
<text x="400.0" y="735.8" fill="#2f3192" stroke="#2f3192" textLength="35.2" lengthAdjust="spacingAndGlyphs">P. arctica</text>
<text x="438.0" y="735.8" fill="#2f3192" stroke="#2f3192" font-style="normal" textLength="74.2" lengthAdjust="spacingAndGlyphs">A 37 1 2 uid168325</text>
<text x="391.6" y="750.1" fill="#2f3192" stroke="#2f3192" textLength="86.4" lengthAdjust="spacingAndGlyphs">Pseudoalteromonas sp.</text>
<text x="480.8" y="750.1" fill="#2f3192" stroke="#2f3192" font-style="normal" textLength="76.3" lengthAdjust="spacingAndGlyphs">BSi20429 uid78649</text>
<text x="377.3" y="768.0" fill="#2f3192" stroke="#2f3192" textLength="86.4" lengthAdjust="spacingAndGlyphs">Pseudoalteromonas sp.</text>
<text x="466.5" y="768.0" fill="#2f3192" stroke="#2f3192" font-style="normal" textLength="24.8" lengthAdjust="spacingAndGlyphs">TAE56</text>
<text x="393.7" y="784.3" fill="#2f3192" stroke="#2f3192" textLength="86.4" lengthAdjust="spacingAndGlyphs">Pseudoalteromonas sp.</text>
<text x="482.9" y="784.3" fill="#2f3192" stroke="#2f3192" font-style="normal" textLength="23.5" lengthAdjust="spacingAndGlyphs">TAE80</text>
<text x="392.8" y="801.5" fill="#2f3192" stroke="#2f3192" textLength="86.4" lengthAdjust="spacingAndGlyphs">Pseudoalteromonas sp.</text>
<text x="482.0" y="801.5" fill="#2f3192" stroke="#2f3192" font-style="normal" textLength="23.1" lengthAdjust="spacingAndGlyphs">TAE79</text>
<text x="393.7" y="824.4" fill="#2f3192" stroke="#2f3192" textLength="55.5" lengthAdjust="spacingAndGlyphs">P. haloplanktis</text>
<text x="452.0" y="824.4" fill="#2f3192" stroke="#2f3192" font-style="normal" textLength="33.8" lengthAdjust="spacingAndGlyphs">ANT 505</text>
<text x="399.1" y="841.8" fill="#2f3192" stroke="#2f3192" textLength="86.4" lengthAdjust="spacingAndGlyphs">Pseudoalteromonas sp.</text>
<text x="488.3" y="841.8" fill="#2f3192" stroke="#2f3192" font-style="normal" textLength="20.6" lengthAdjust="spacingAndGlyphs">TB25</text>
<text x="398.3" y="860.4" fill="#2f3192" stroke="#2f3192" textLength="86.4" lengthAdjust="spacingAndGlyphs">Pseudoalteromonas sp.</text>
<text x="487.5" y="860.4" fill="#2f3192" stroke="#2f3192" font-style="normal" textLength="26.8" lengthAdjust="spacingAndGlyphs">AC163</text>
</g>
</svg>
</body></html>
